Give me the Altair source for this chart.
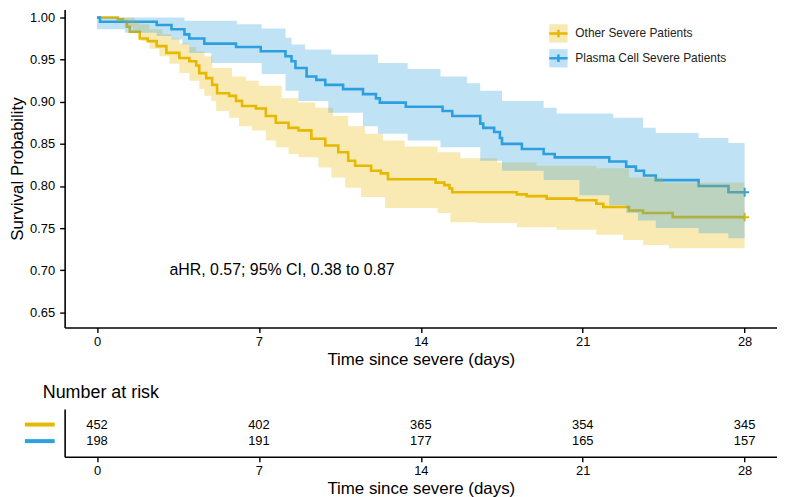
import altair as alt
import pandas as pd

groups = ["Other Severe Patients", "Plasma Cell Severe Patients"]
line_codes = ["other", "plasma"]
colors = ["#E7B800", "#2E9FDF"]

# Kaplan-Meier step curves (time in days, survival probability)
other_t = [0, 0.90, 1.12, 1.29, 1.42, 1.85, 2.19, 2.58, 3.00, 3.56, 3.99, 4.29, 4.42, 4.72,
           4.98, 5.19, 5.71, 6.01, 6.27, 6.87, 7.30, 7.73, 8.28, 8.71, 9.27, 9.87, 10.43,
           10.86, 11.16, 11.85, 12.27, 12.58, 14.64, 15.02, 15.24, 15.36, 18.15, 18.58,
           19.44, 20.73, 21.59, 21.89, 23.00, 23.61, 24.89]
other_s = [1.000, 0.998, 0.995, 0.989, 0.983, 0.975, 0.972, 0.966, 0.958, 0.952, 0.948, 0.943,
           0.934, 0.928, 0.920, 0.910, 0.907, 0.901, 0.895, 0.892, 0.883, 0.875, 0.869, 0.866,
           0.856, 0.848, 0.840, 0.830, 0.824, 0.818, 0.815, 0.808, 0.804, 0.801, 0.797, 0.7925,
           0.790, 0.788, 0.785, 0.783, 0.779, 0.775, 0.771, 0.768, 0.763]

plasma_t = [0, 0.13, 2.58, 3.22, 3.78, 3.99, 4.64, 6.01, 7.08, 8.15, 8.41, 8.58, 9.06, 9.48,
            9.87, 10.64, 11.50, 12.06, 12.23, 13.35, 14.94, 15.36, 16.57, 16.70, 17.17, 17.42,
            17.51, 18.37, 19.31, 19.79, 22.15, 22.88, 23.30, 23.65, 24.16, 26.01, 27.30]
plasma_s = [1.000, 0.995, 0.991, 0.986, 0.980, 0.975, 0.969, 0.965, 0.960, 0.954, 0.948, 0.940,
            0.930, 0.926, 0.920, 0.915, 0.909, 0.904, 0.899, 0.894, 0.889, 0.883, 0.874, 0.869,
            0.864, 0.857, 0.850, 0.844, 0.838, 0.834, 0.829, 0.823, 0.818, 0.8125, 0.807, 0.800,
            0.7925]

# 95% confidence bands (step edges)
other_up_t = [0, 1.29, 1.63, 1.85, 2.27, 2.83, 3.22, 3.56, 3.99, 4.29, 4.64, 4.98, 5.84, 6.44,
              6.99, 7.98, 8.71, 9.44, 10.21, 10.86, 11.59, 12.36, 13.30, 14.72, 15.71, 17.30,
              19.00, 21.59, 23.00, 24.46]
other_up = [1.000, 1.000, 0.995, 0.992, 0.986, 0.980, 0.975, 0.969, 0.965, 0.960, 0.954, 0.940,
            0.930, 0.925, 0.919, 0.904, 0.899, 0.893, 0.883, 0.871, 0.862, 0.854, 0.847, 0.840,
            0.833, 0.828, 0.824, 0.821, 0.810, 0.804]
other_lo_t = [0, 0.90, 1.20, 1.55, 1.93, 2.27, 2.70, 3.13, 3.56, 3.99, 4.42, 4.64, 4.94, 5.15,
              5.71, 6.14, 6.70, 7.30, 7.73, 8.28, 8.71, 9.57, 10.13, 10.73, 11.42, 12.45, 14.72,
              15.28, 16.44, 18.15, 19.87, 21.59, 22.75, 23.61, 24.72]
other_lo = [1.000, 0.995, 0.989, 0.981, 0.972, 0.963, 0.954, 0.945, 0.934, 0.925, 0.915, 0.907,
            0.901, 0.889, 0.881, 0.871, 0.866, 0.854, 0.846, 0.838, 0.834, 0.822, 0.810, 0.798,
            0.787, 0.774, 0.768, 0.757, 0.756, 0.751, 0.748, 0.742, 0.736, 0.730, 0.726]

plasma_up_t = [0, 3.78, 6.05, 7.12, 8.15, 8.41, 9.00, 10.13, 12.15, 13.43, 14.85, 16.00, 16.57,
               17.51, 19.31, 19.87, 22.32, 23.61, 24.16, 26.01, 27.30]
plasma_up = [1.000, 0.996, 0.992, 0.987, 0.976, 0.968, 0.962, 0.956, 0.946, 0.939, 0.930, 0.922,
             0.913, 0.901, 0.893, 0.886, 0.881, 0.869, 0.863, 0.857, 0.851]
plasma_lo_t = [0, 1.20, 2.58, 3.22, 3.69, 3.99, 4.94, 7.12, 8.15, 8.71, 10.00, 11.50, 12.15,
               13.43, 14.85, 16.57, 17.51, 19.31, 20.86, 22.15, 22.88, 23.39, 24.16, 26.01, 27.30]
plasma_lo = [0.986, 0.982, 0.978, 0.974, 0.968, 0.958, 0.946, 0.933, 0.913, 0.901, 0.887, 0.871,
             0.862, 0.854, 0.846, 0.830, 0.818, 0.807, 0.789, 0.777, 0.768, 0.759, 0.750, 0.744,
             0.738]

end_time = 28

# Number at risk table
risk_times = [0, 7, 14, 21, 28]
risk_other = [452, 402, 365, 354, 345]
risk_plasma = [198, 191, 177, 165, 157]

annotation_text = ["aHR, 0.57; 95% CI, 0.38 to 0.87"]
annotation_t = [8.0]
annotation_s = [0.70]

x_ticks = [0, 7, 14, 21, 28]
y_ticks = [0.65, 0.70, 0.75, 0.80, 0.85, 0.90, 0.95, 1.00]

FONT = "Liberation Sans"


def step_at(ts, vs, t):
    v = vs[0]
    for ti, vi in zip(ts, vs):
        if ti <= t:
            v = vi
    return v


curve_rows = []
end_rows = []
band_rows = []
for g, code, ts, ss, ut, uv, lt, lv in [
    (groups[0], line_codes[0], other_t, other_s, other_up_t, other_up, other_lo_t, other_lo),
    (groups[1], line_codes[1], plasma_t, plasma_s, plasma_up_t, plasma_up, plasma_lo_t, plasma_lo),
]:
    for t, s in zip(ts + [end_time], ss + [ss[-1]]):
        curve_rows.append({"t": t, "s": s, "code": code})
    end_rows.append({"t": end_time, "s": ss[-1], "code": code})
    times = sorted(set(ut + lt + [end_time]))
    for t in times:
        band_rows.append({"t": t, "lo": step_at(lt, lv, t), "up": step_at(ut, uv, t), "grp": g})

curve_df = pd.DataFrame(curve_rows)
end_df = pd.DataFrame(end_rows)
band_df = pd.DataFrame(band_rows)
ann_df = pd.DataFrame({"t": annotation_t, "s": annotation_s, "label": annotation_text})

table_rows = []
for g, vals in [(groups[0], risk_other), (groups[1], risk_plasma)]:
    for t, n in zip(risk_times, vals):
        table_rows.append({"t": t, "n": n, "grp": g})
table_df = pd.DataFrame(table_rows)
dash_df = pd.DataFrame({"grp": groups})

xscale = alt.Scale(domain=[-1.4, 29.4], nice=False, zero=False)
yscale = alt.Scale(domain=[0.632, 1.0094], nice=False, zero=False)
fscale = alt.Scale(domain=groups, range=colors)
sscale = alt.Scale(domain=line_codes, range=colors)

x_axis = alt.Axis(values=x_ticks, title="Time since severe (days)", format="d")
y_axis = alt.Axis(values=y_ticks, title="Survival Probability", format=".2f")

X = alt.X("t:Q", scale=xscale, axis=x_axis)

# two legends stacked at the same spot: light swatch (fill) under a line with a cross (stroke)
SYM = 275
LX, LY = 487, 14
ROWPAD = -13
stroke_legend = alt.Legend(
    title=None, orient="none", legendX=LX, legendY=LY,
    symbolType="M0,-1.11M0,1.11M-1.11,0L1.11,0M0,-0.45L0,0.45",
    symbolSize=SYM, symbolStrokeWidth=2.6, symbolFillColor="transparent", labelExpr="''",
    labelFontSize=12, labelOffset=7, rowPadding=ROWPAD, padding=0,
)
fill_legend = alt.Legend(
    title=None, orient="none", legendX=LX, legendY=LY,
    symbolType="M-1.11,-1.11L1.11,-1.11L1.11,1.11L-1.11,1.11Z", symbolSize=SYM,
    symbolOpacity=0.3, symbolStrokeWidth=2.6, symbolStrokeColor="transparent",
    labelFontSize=12, labelOffset=7, rowPadding=ROWPAD, padding=0, labelColor="#222222",
    labelFont=FONT,
)

lines = alt.Chart(curve_df).mark_line(interpolate="step-after", strokeWidth=2.6).encode(
    x=X,
    y=alt.Y("s:Q", scale=yscale, axis=y_axis),
    stroke=alt.Stroke("code:N", scale=sscale, legend=stroke_legend),
)
ends = alt.Chart(end_df).mark_point(
    shape="M-1,0L1,0M0,-1L0,1", size=80, strokeWidth=2, filled=False, opacity=1
).encode(
    x=X,
    y=alt.Y("s:Q", scale=yscale),
    stroke=alt.Stroke("code:N", scale=sscale, legend=stroke_legend),
)
bands = alt.Chart(band_df).mark_area(interpolate="step-after", fillOpacity=0.3).encode(
    x=X,
    y=alt.Y("lo:Q", scale=yscale),
    y2="up:Q",
    fill=alt.Fill("grp:N", scale=fscale, legend=fill_legend),
)
ann = alt.Chart(ann_df).mark_text(fontSize=16, align="center", font=FONT, color="black").encode(
    x=X, y=alt.Y("s:Q", scale=yscale), text="label:N"
)

main = alt.layer(lines, ends, bands, ann).properties(width=717, height=320)

tX = alt.X("t:Q", scale=xscale, axis=alt.Axis(values=x_ticks, title="Time since severe (days)", format="d"))
tY = alt.Y("grp:N", scale=alt.Scale(domain=groups, type="point", padding=0.94),
           axis=alt.Axis(labels=False, ticks=False, title=None))
table_text = alt.Chart(table_df).mark_text(fontSize=13, font=FONT, color="black").encode(
    x=tX, y=tY, text="n:Q"
)
dashes = alt.Chart(dash_df).mark_rule(strokeWidth=4).encode(
    x=alt.value(-40), x2=alt.value(-10), y=tY,
    color=alt.Color("grp:N", scale=fscale, legend=None),
)
table = alt.layer(table_text, dashes).properties(
    width=717, height=48,
    title=alt.TitleParams("Number at risk", anchor="start", frame="group", fontSize=18,
                          fontWeight="normal", dx=-22, offset=7, font=FONT, color="black"),
)

chart = alt.vconcat(main, table, spacing=17).resolve_scale(
    color="independent", fill="independent", stroke="independent"
).resolve_legend(color="independent", fill="independent", stroke="independent").properties(
    padding=0
).configure(font=FONT).configure_view(stroke=None).configure_axis(
    grid=False, domainColor="black", domainWidth=1.6, tickColor="black", tickWidth=1.4,
    tickSize=5, labelColor="black", labelFontSize=13, labelFont=FONT, titleColor="black",
    titleFontSize=17, titleFontWeight="normal", titleFont=FONT, labelPadding=3,
).configure_axisX(titlePadding=3).configure_axisY(titlePadding=3, labelPadding=5)

chart.save("out.html", embed_options={"renderer": "svg", "actions": False})
